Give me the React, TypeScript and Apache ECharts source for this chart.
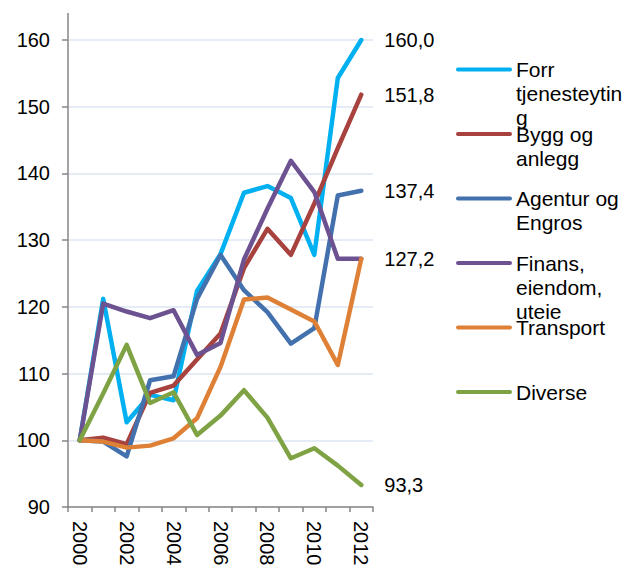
import React, { useEffect, useRef } from "react";
import * as echarts from "echarts";

const years = ["2000", "2001", "2002", "2003", "2004", "2005", "2006", "2007", "2008", "2009", "2010", "2011", "2012"];
const seriesNames = ["Forr tjenesteyting", "Bygg og anlegg", "Agentur og Engros", "Finans, eiendom, uteie", "Transport", "Diverse"];
const legendLabels = ["Forr\ntjenesteytin\ng", "Bygg og\nanlegg", "Agentur og\nEngros", "Finans,\neiendom,\nuteie", "Transport", "Diverse"];
const forr = [100, 121.2, 102.7, 106.8, 106.0, 122.4, 127.9, 137.1, 138.1, 136.3, 127.8, 154.3, 160.0];
const bygg = [100, 100.4, 99.4, 107.1, 108.2, 112.1, 116.0, 125.8, 131.7, 127.8, 135.5, 143.8, 151.8];
const agentur = [100, 99.8, 97.6, 109.0, 109.6, 121.2, 127.8, 122.5, 119.2, 114.5, 116.8, 136.7, 137.4];
const finans = [100, 120.5, 119.3, 118.3, 119.5, 112.8, 114.6, 127.1, 134.7, 141.9, 137.2, 127.2, 127.2];
const transport = [100, 99.8, 98.9, 99.2, 100.3, 103.3, 111.0, 121.1, 121.4, 119.6, 117.8, 111.3, 127.2];
const diverse = [100, 107.0, 114.3, 105.6, 107.2, 100.8, 103.7, 107.5, 103.4, 97.3, 98.8, 96.2, 93.3];
const seriesData = [forr, bygg, agentur, finans, transport, diverse];
const colors = ["#00B0F0", "#A8423F", "#4271AE", "#6D5291", "#DE8137", "#7FA344"];
const showEndLabel = [true, true, true, true, false, true];
const yTicks = { min: 90, max: 160, interval: 10 };

const FONT = "'Liberation Sans', Arial, sans-serif";

export default function App() {
  const ref = useRef<HTMLDivElement>(null);
  useEffect(() => {
    if (!ref.current) return;
    const chart = echarts.init(ref.current, undefined, { renderer: "svg" });
    const legendGraphics: any[] = [];
    seriesNames.forEach((_, i) => {
      const y = 69.5 + 64.5 * i;
      legendGraphics.push({
        type: "line",
        shape: { x1: 458, y1: y, x2: 510, y2: y },
        style: { stroke: colors[i], lineWidth: 4, lineCap: "round" },
      });
      legendGraphics.push({
        type: "text",
        x: 516,
        y: y - 12,
        style: {
          text: legendLabels[i],
          fontSize: 21,
          lineHeight: 24,
          fontFamily: FONT,
          fill: "#000",
          verticalAlign: "top",
          align: "left",
        },
      });
    });
    chart.setOption({
      animation: false,
      textStyle: { fontFamily: FONT },
      grid: { left: 68, right: 253, top: 40, bottom: 58, outerBoundsMode: "none", containLabel: false },
      xAxis: {
        type: "category",
        data: years,
        boundaryGap: true,
        axisLine: { lineStyle: { color: "#868686", width: 1.5 } },
        axisTick: { show: true, interval: 0, length: 5, lineStyle: { color: "#868686", width: 1.5 } },
        axisLabel: { rotate: -90, interval: 1, fontSize: 20, color: "#000", margin: 14, fontFamily: FONT },
        splitLine: { show: false },
      },
      yAxis: {
        type: "value",
        min: yTicks.min,
        max: yTicks.max,
        interval: yTicks.interval,
        axisLine: { show: true, lineStyle: { color: "#868686", width: 1.5 } },
        axisTick: { show: true, length: 6, lineStyle: { color: "#868686", width: 1.5 } },
        axisLabel: { fontSize: 20, color: "#000", margin: 18, fontFamily: FONT },
        splitLine: { show: true, lineStyle: { color: "#DCE6F2", width: 1.5 } },
      },
      graphic: [
        {
          type: "line",
          shape: { x1: 68, y1: 13, x2: 68, y2: 40 },
          style: { stroke: "#868686", lineWidth: 1.5 },
        },
        ...legendGraphics,
      ],
      series: seriesData.map((d, i) => ({
        name: seriesNames[i],
        type: "line",
        data: d,
        showSymbol: false,
        symbol: "none",
        lineStyle: { color: colors[i], width: 4.5, cap: "round", join: "round" },
        itemStyle: { color: colors[i] },
        endLabel: {
          show: showEndLabel[i],
          distance: 23,
          fontSize: 20,
          color: "#000",
          fontFamily: FONT,
          formatter: (p: any) => Number(p.value).toFixed(1).replace(".", ","),
        },
      })),
    });
    return () => chart.dispose();
  }, []);
  return <div ref={ref} style={{ position: "absolute", left: 0, top: 0, width: 626, height: 565 }} />;
}
